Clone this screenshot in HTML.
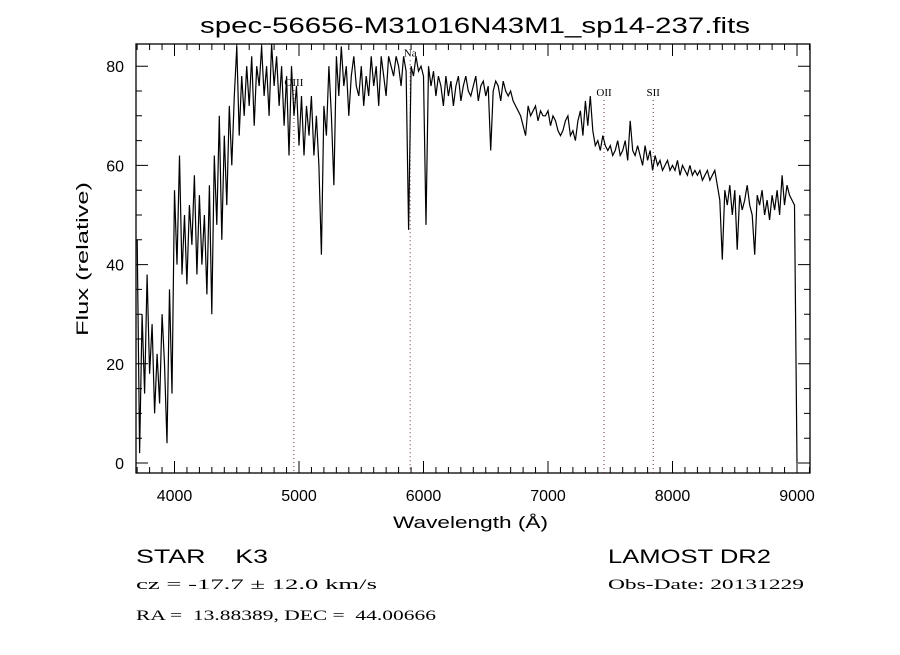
<!DOCTYPE html>
<html><head><meta charset="utf-8"><style>
body{margin:0;background:#fff;}
svg text{font-family:"Liberation Sans",sans-serif;fill:#000;white-space:pre;}
.s{font-family:"Liberation Serif",serif;}
</style></head><body>
<svg id="chart" width="900" height="650" xmlns="http://www.w3.org/2000/svg" xml:space="preserve">
<rect width="900" height="650" fill="#fff"/>
<text x="200" y="33" font-size="22" textLength="550" lengthAdjust="spacingAndGlyphs">spec-56656-M31016N43M1_sp14-237.fits</text>
<g id="axes"></g>
<g id="marks"></g>
<text x="393" y="528" font-size="17" textLength="155" lengthAdjust="spacingAndGlyphs">Wavelength (Å)</text>
<text transform="translate(88,336) rotate(-90)" font-size="17" textLength="154" lengthAdjust="spacingAndGlyphs">Flux (relative)</text>
<text x="136" y="563" font-size="19" textLength="132" lengthAdjust="spacingAndGlyphs">STAR    K3</text>
<text class="s" x="136" y="589" font-size="15" textLength="241" lengthAdjust="spacingAndGlyphs">cz = -17.7 ± 12.0 km/s</text>
<text class="s" x="136" y="620" font-size="15" textLength="300" lengthAdjust="spacingAndGlyphs">RA =  13.88389, DEC =  44.00666</text>
<text x="608" y="563" font-size="19" textLength="163" lengthAdjust="spacingAndGlyphs">LAMOST DR2</text>
<text class="s" x="608" y="589" font-size="15" textLength="196" lengthAdjust="spacingAndGlyphs">Obs-Date: 20131229</text>
</svg>
<script>
const startWave = 3700;
const stepWave = 20;
const flux = [
45,2,30,14,38, 18,28,10,22,12, 30,20,4,35,14,
55,40,62,38,50, 36,52,44,58,38, 54,40,50,34,56, 30,62,48,70,45, 66,52,72,60,74,
84,66,78,70,80, 72,82,68,80,76, 84,74,80,70,86, 76,82,72,80,68, 78,62,80,70,76,
64,74,62,72,66, 74,62,70,60,42, 72,66,80,70,56, 82,74,84,76,80, 70,78,82,76,74,
80,72,78,74,82, 76,80,72,82,78, 74,82,80,78,82, 80,76,82,79,47, 80,78,82,79,80,
78,48,80,76,79, 74,78,76,72,78, 74,77,72,76,78, 73,76,78,75,74, 76,78,73,76,77,
74,76,63,75,77, 76,73,77,75,74, 75,73,72,71,70, 68,66,72,70,71, 72,69,71,70,70,
71,68,70,69,67, 66,67,69,70,66, 67,65,69,71,66, 73,68,74,67,64, 65,63,66,64,63,
64,62,63,65,62, 63,65,61,69,63, 62,64,62,60,64, 61,63,59,62,60, 61,59,60,61,59,
60,59,61,58,60, 59,58,60,58,59, 58,59,57,58,59, 57,58,59,56,53, 41,55,52,56,50,
55,43,54,51,53, 56,52,50,42,54, 52,55,50,53,49, 54,51,55,50,58, 52,56,54,53,52,
0];
const xTicks = [4000,5000,6000,7000,8000,9000];
const yTicks = [0,20,40,60,80];
const lineNames = ["OIII","Na","OII","SII"];
const lineWaves = [4959,5893,7450,7845];
const lineLabelY = [76,82,74,74];

const X0=136,X1=810,Y0=44,Y1=473;
const x = w => 174.5 + (w-4000)*0.1245;
const y = v => 463 - v*4.96;
const NS="http://www.w3.org/2000/svg";
function mk(tag, attrs, parent){const e=document.createElementNS(NS,tag);for(const k in attrs)e.setAttribute(k,attrs[k]);parent.appendChild(e);return e;}
const axes=document.getElementById('axes'), marks=document.getElementById('marks');
const frame=mk('rect',{x:X0,y:Y0,width:X1-X0,height:Y1-Y0,fill:'none',stroke:'#000','stroke-width':1.3},axes);


for(let w=3700;w<=9100;w+=100){
  const px=x(w); if(px<X0||px>X1) continue;
  const L=(w%1000===0)?12:6;
  const t=mk('path',{d:`M${px},${Y1}V${Y1-L}M${px},${Y0}V${Y0+L}`,stroke:'#000','stroke-width':1},axes);
  
  
}
for(let v=0;v<=80;v+=5){
  const py=y(v); const L=(v%20===0)?12:6;
  const t=mk('path',{d:`M${X0},${py}H${X0+L}M${X1},${py}H${X1-L}`,stroke:'#000','stroke-width':1},axes);
  
  
}
xTicks.forEach(w=>{
  const t=mk('text',{x:x(w),y:501,'font-size':16,'text-anchor':'middle'},axes);
  t.textContent=w;
  
  
});
yTicks.forEach(v=>{
  const t=mk('text',{x:124,y:y(v)+6,'font-size':16,'text-anchor':'end'},axes);
  t.textContent=v;
  
  
});
lineNames.forEach((n,i)=>{
  const px=x(lineWaves[i]);
  const l=mk('line',{x1:px,x2:px,y1:y(lineLabelY[i])+4,y2:Y1,stroke:'#6b2a2a','stroke-width':1,'stroke-dasharray':'1,3'},marks);
  
  
  const t=mk('text',{x:px,y:y(lineLabelY[i]),'font-size':11,'text-anchor':'middle','class':'s'},marks);
  t.textContent=n;
  
  
});
let d='';
flux.forEach((v,i)=>{const w=startWave+i*stepWave; d+=(i?'L':'M')+Math.min(Math.max(x(w),X0),X1).toFixed(1)+','+Math.max(y(v),Y0).toFixed(1);});
const p=mk('path',{d:d,fill:'none',stroke:'#000','stroke-width':1.2},marks);


</script>
</body></html>
